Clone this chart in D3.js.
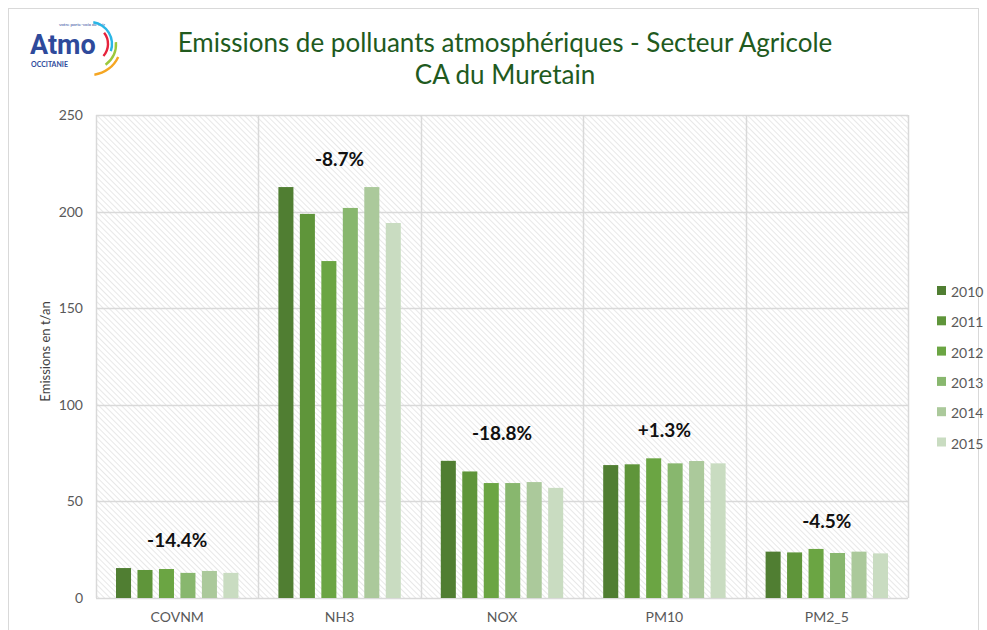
<!DOCTYPE html>
<html>
<head>
<meta charset="utf-8">
<script src="https://cdn.jsdelivr.net/npm/d3@7"></script>
<style>
  body { margin: 0; background: #fff; }
  svg { font-family: Lato, "Open Sans", sans-serif; }
</style>
</head>
<body>
<svg class="chart" width="987" height="630"></svg>
<script>
const categories = ["COVNM", "NH3", "NOX", "PM10", "PM2_5"];
const years = ["2010", "2011", "2012", "2013", "2014", "2015"];
const v2010 = [15.5, 212.7, 71.0, 68.8, 24.0];
const v2011 = [14.5, 198.8, 65.5, 69.2, 23.6];
const v2012 = [15.0, 174.4, 59.5, 72.3, 25.4];
const v2013 = [13.0, 201.9, 59.5, 69.7, 23.3];
const v2014 = [14.0, 212.7, 60.0, 70.9, 24.0];
const v2015 = [13.0, 194.1, 57.0, 69.7, 23.1];
const changes = ["-14.4%", "-8.7%", "-18.8%", "+1.3%", "-4.5%"];
const yTicks = [0, 50, 100, 150, 200, 250];
const colors = ["#507e32", "#5f953a", "#6ba543", "#88b76e", "#abc99b", "#c9dcc1"];

const series = [v2010, v2011, v2012, v2013, v2014, v2015];

const svg = d3.select("svg.chart");
const margin = {top: 115, left: 96, right: 79, bottom: 32};
const width = 987 - margin.left - margin.right;
const height = 630 - margin.top - margin.bottom;

// chart frame
svg.append("rect")
    .attr("x", 8.5).attr("y", 8.5)
    .attr("width", 970).attr("height", 640)
    .attr("fill", "none").attr("stroke", "#d9d9d9");

// hatch pattern (lines running top-left to bottom-right)
const defs = svg.append("defs");
const pat = defs.append("pattern")
    .attr("id", "hatch")
    .attr("patternUnits", "userSpaceOnUse")
    .attr("width", 4).attr("height", 4)
    .attr("patternTransform", "rotate(-45)");
pat.append("rect").attr("width", 4).attr("height", 4).attr("fill", "#fff");
pat.append("line")
    .attr("x1", 0).attr("y1", 0).attr("x2", 0).attr("y2", 4)
    .attr("stroke", "#e3e3e3").attr("stroke-width", 1.6);

const x = d3.scaleBand().domain(categories).range([0, width]);
const xi = d3.scaleBand().domain(years).range([20, x.bandwidth() - 20]).paddingInner(0.3);
const y = d3.scaleLinear().domain([0, 250]).range([height, 0]);

const g = svg.append("g")
    .attr("transform", `translate(${margin.left}, ${margin.top})`);

g.append("rect")
    .attr("width", width).attr("height", height)
    .attr("fill", "url(#hatch)");

// horizontal grid
g.append("g")
    .selectAll("line")
    .data(yTicks)
    .enter().append("line")
        .attr("x1", 0).attr("x2", width)
        .attr("y1", d => Math.round(y(d)) + 0.5)
        .attr("y2", d => Math.round(y(d)) + 0.5)
        .attr("stroke", "#d9d9d9").attr("stroke-width", 1.5);

// vertical separators
g.append("g")
    .selectAll("line")
    .data(categories.concat(["end"]))
    .enter().append("line")
        .attr("x1", (d, i) => Math.round(i * x.step()) + 0.5)
        .attr("x2", (d, i) => Math.round(i * x.step()) + 0.5)
        .attr("y1", 0).attr("y2", height)
        .attr("stroke", "#d9d9d9").attr("stroke-width", 1.5);

// y axis tick labels
g.append("g")
    .attr("class", "axis axis--y")
    .call(d3.axisLeft(y).tickValues(yTicks).tickSize(0).tickPadding(13))
    .call(a => a.select(".domain").remove())
    .call(a => a.selectAll("text")
        .attr("fill", "#595959")
        .style("font-size", "14px")
        .style("font-family", "Lato, sans-serif"));

// x axis labels
g.append("g")
    .attr("class", "axis axis--x")
    .attr("transform", `translate(0, ${height})`)
    .call(d3.axisBottom(x).tickSize(0).tickPadding(14))
    .call(a => a.select(".domain").remove())
    .call(a => a.selectAll("text")
        .attr("fill", "#595959")
        .style("font-size", "14px")
        .style("font-family", "Lato, sans-serif"));

// y label
g.append("text")
    .attr("transform", "rotate(-90)")
    .attr("x", -height / 2 + 5)
    .attr("y", -46)
    .attr("text-anchor", "middle")
    .attr("fill", "#404040")
    .style("font-size", "13px")
    .text("Emissions en t/an");

// bars
series.forEach((vals, si) => {
    g.selectAll(".bar-" + si)
        .data(vals)
        .enter().append("rect")
            .attr("class", "bar-" + si)
            .attr("x", (d, i) => x(categories[i]) + xi(years[si]))
            .attr("y", d => y(d))
            .attr("width", xi.bandwidth())
            .attr("height", d => height - y(d))
            .attr("fill", colors[si]);
});

// change labels
g.selectAll(".chg")
    .data(changes)
    .enter().append("text")
        .attr("class", "chg")
        .attr("x", (d, i) => x(categories[i]) + x.bandwidth() / 2)
        .attr("y", (d, i) => y(d3.max(series, s => s[i])) - 21)
        .attr("text-anchor", "middle")
        .attr("fill", "#111")
        .style("font-size", "19px")
        .style("font-weight", "bold")
        .text(d => d);

// legend
const legend = svg.append("g")
    .attr("transform", "translate(937, 292)");
years.forEach((yr, i) => {
    legend.append("rect")
        .attr("x", 0).attr("y", i * 30.3 - 6)
        .attr("width", 9).attr("height", 9)
        .attr("fill", colors[i]);
    legend.append("text")
        .attr("x", 14).attr("y", i * 30.3 + 5)
        .attr("fill", "#595959")
        .style("font-size", "14px")
        .text(yr);
});

// title
const title = svg.append("text")
    .attr("x", 505)
    .attr("text-anchor", "middle")
    .attr("fill", "#215a1e")
    .style("font-size", "26px");
title.append("tspan").attr("x", 505).attr("y", 52)
    .text("Emissions de polluants atmosphériques - Secteur Agricole");
title.append("tspan").attr("x", 505).attr("y", 84)
    .text("CA du Muretain");

// logo
const logo = svg.append("g").attr("transform", "translate(30, 30)");
logo.append("text")
    .attr("x", 0).attr("y", 24)
    .attr("fill", "#2e4a9b")
    .style("font-size", "27px").style("font-weight", "bold")
    .style("font-family", "Roboto, sans-serif")
    .text("Atmo");
logo.append("text")
    .attr("x", 1).attr("y", 37)
    .attr("fill", "#2e4a9b")
    .style("font-size", "7px").style("font-weight", "bold")
    .text("OCCITANIE");
logo.append("text")
    .attr("x", 29).attr("y", -4)
    .attr("fill", "#2e4a9b")
    .style("font-size", "4.5px")
    .text("votre porte-voix de l'air");
const arcs = [
    {r: 22, a0: 0.15, a1: 1.9, c: "#2ab6e6"},
    {r: 18, a0: 0.9, a1: 2.3, c: "#e6233c"},
    {r: 26, a0: 1.5, a1: 2.5, c: "#9cc83c"},
    {r: 31, a0: 2.0, a1: 3.0, c: "#f5a623"}
];
arcs.forEach(a => {
    logo.append("path")
        .attr("transform", "translate(60, 14)")
        .attr("d", d3.arc()({innerRadius: a.r - 1.2, outerRadius: a.r + 1.2, startAngle: a.a0, endAngle: a.a1}))
        .attr("fill", a.c);
});
</script>
</body>
</html>
